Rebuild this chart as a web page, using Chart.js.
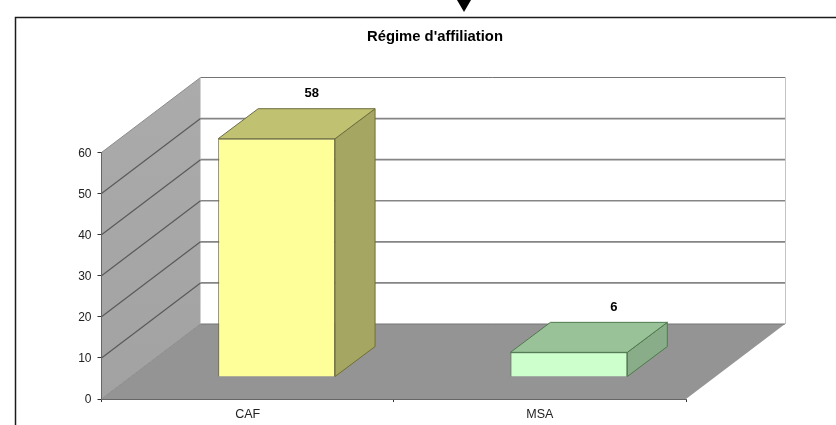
<!DOCTYPE html>
<html>
<head>
<meta charset="utf-8">
<style>
html,body{margin:0;padding:0;background:#fff;}
#wrap{position:relative;width:836px;height:425px;}
</style>
<script src="https://cdn.jsdelivr.net/npm/chart.js@4"></script>
</head>
<body>
<div id="wrap"><canvas id="c" width="836" height="425"></canvas></div>
<script>
const categories = ["CAF", "MSA"];
const values = [58, 6];
const yTicks = [0, 10, 20, 30, 40, 50, 60];

const titleText = "Régime d'affiliation";
const frontColors = ["#ffff99", "#ccffcc"];
const topColors = ["#c1c172", "#99c299"];
const sideColors = ["#a6a663", "#88ad88"];
const edgeColors = ["#6e6e3e", "#4f7a4f"];
const labelShift = [-5, 5];

// 3d look: depth of the whole box and of the bars, in pixels
const wallDX = 99, wallDY = 75;
const barInX = 29, barInY = 22;
const barDX = 40, barDY = 30;

function poly(ctx, pts, fill, stroke, lw){
  ctx.beginPath();
  pts.forEach((p,i)=> i ? ctx.lineTo(p[0],p[1]) : ctx.moveTo(p[0],p[1]));
  ctx.closePath();
  if(fill){ ctx.fillStyle = fill; ctx.fill(); }
  if(stroke){ ctx.strokeStyle = stroke; ctx.lineWidth = lw||1; ctx.stroke(); }
}

const box3d = {
  id:"box3d",
  beforeDraw(chart){
    const ctx = chart.ctx, a = chart.chartArea, y = chart.scales.y;
    const l = a.left, r = a.right, t = a.top, b = a.bottom;
    ctx.save();
    // page frame and the little arrow above it
    ctx.strokeStyle = "#1c1c1c"; ctx.lineWidth = 1.5;
    ctx.beginPath(); ctx.moveTo(15.5,425); ctx.lineTo(15.5,17.5); ctx.lineTo(836,17.5); ctx.stroke();
    poly(ctx, [[457,0],[471,0],[464,12]], "#000");

    // back wall
    poly(ctx, [[l+wallDX,t-wallDY],[r+wallDX,t-wallDY],[r+wallDX,b-wallDY],[l+wallDX,b-wallDY]], "#fff");
    // side wall
    const g = ctx.createLinearGradient(0,t-wallDY,0,b);
    g.addColorStop(0,"#ababab"); g.addColorStop(1,"#a2a2a2");
    poly(ctx, [[l,b],[l+wallDX,b-wallDY],[l+wallDX,t-wallDY],[l,t]], g);
    // floor
    poly(ctx, [[l,b],[r,b],[r+wallDX,b-wallDY],[l+wallDX,b-wallDY]], "#949494");

    yTicks.forEach(v=>{
      const py = y.getPixelForValue(v);
      const edge = v===yTicks[0] || v===yTicks[yTicks.length-1];
      ctx.strokeStyle = edge ? "#747474" : "#858585";
      ctx.lineWidth = edge ? 1 : 1.6;
      ctx.beginPath(); ctx.moveTo(l+wallDX,py-wallDY); ctx.lineTo(r+wallDX,py-wallDY); ctx.stroke();
      ctx.strokeStyle = edge ? "#8c8c8c" : "#5a5a5a"; ctx.lineWidth = edge ? 1 : 1.2;
      ctx.beginPath(); ctx.moveTo(l,py); ctx.lineTo(l+wallDX,py-wallDY); ctx.stroke();
    });
    // dotted right edge of the back wall
    ctx.strokeStyle = "#8a8a8a"; ctx.lineWidth = 1; ctx.setLineDash([1,1]);
    ctx.beginPath(); ctx.moveTo(r+wallDX+0.5,t-wallDY); ctx.lineTo(r+wallDX+0.5,b-wallDY); ctx.stroke();
    ctx.restore();
  },
  beforeDatasetsDraw(chart){
    const ctx = chart.ctx;
    ctx.save();
    chart.getDatasetMeta(0).data.forEach((bar,i)=>{
      const x0 = bar.x - bar.width/2 + barInX, x1 = bar.x + bar.width/2 + barInX;
      const yt = bar.y - barInY, yb = bar.base - barInY;
      ctx.lineJoin = "round";
      poly(ctx, [[x1,yt],[x1+barDX,yt-barDY],[x1+barDX,yb-barDY],[x1,yb]], sideColors[i], edgeColors[i], 1);
      poly(ctx, [[x0,yt],[x0+barDX,yt-barDY],[x1+barDX,yt-barDY],[x1,yt]], topColors[i], edgeColors[i], 1);
    });
    ctx.restore();
  },
  // the library draws the front face, moved into the box
  beforeDatasetDraw(chart){
    chart.ctx.save();
    chart.ctx.translate(barInX,-barInY);
  },
  afterDatasetDraw(chart){
    chart.ctx.restore();
  },
  afterDatasetsDraw(chart){
    const ctx = chart.ctx;
    ctx.save();
    ctx.fillStyle = "#000";
    ctx.textAlign = "center"; ctx.textBaseline = "middle";
    // title sits off the plot centre, so it is placed here and not by the title plugin
    ctx.font = "bold 14.8px 'Liberation Sans'";
    ctx.fillText(titleText, 435, 37);
    ctx.font = "bold 13px 'Liberation Sans'";
    chart.getDatasetMeta(0).data.forEach((bar,i)=>{
      ctx.fillText(String(values[i]), bar.x + barInX + barDX + labelShift[i], bar.y - barInY - barDY - 15);
    });
    ctx.restore();
  }
};

new Chart(document.getElementById("c"), {
  type:"bar",
  data:{
    labels:categories,
    datasets:[{
      data:values,
      backgroundColor:frontColors,
      borderColor:edgeColors,
      borderWidth:1,
      barPercentage:0.4,
      categoryPercentage:1,
      clip:false
    }]
  },
  options:{
    responsive:false,
    animation:false,
    layout:{padding:{left:61.5,right:150,top:152.5,bottom:0}},
    plugins:{
      legend:{display:false},
      tooltip:{enabled:false}
    },
    scales:{
      x:{
        grid:{offset:true,drawOnChartArea:false,color:"#333",tickLength:3},
        border:{color:"#666",dash:[1,1]},
        ticks:{color:"#222",font:{family:"'Liberation Sans'",size:12.5},padding:5,maxRotation:0},
        afterFit(s){ s.height = 26; }
      },
      y:{
        min:0,max:60,
        afterBuildTicks(s){ s.ticks = yTicks.map(v=>({value:v})); },
        grid:{drawOnChartArea:false,color:"#333",tickLength:4},
        border:{color:"#666",dash:[1,1]},
        ticks:{color:"#222",font:{family:"'Liberation Sans'",size:12},padding:6,labelOffset:1},
        afterFit(s){ s.width = 40; }
      }
    }
  },
  plugins:[box3d]
});
</script>
</body>
</html>
